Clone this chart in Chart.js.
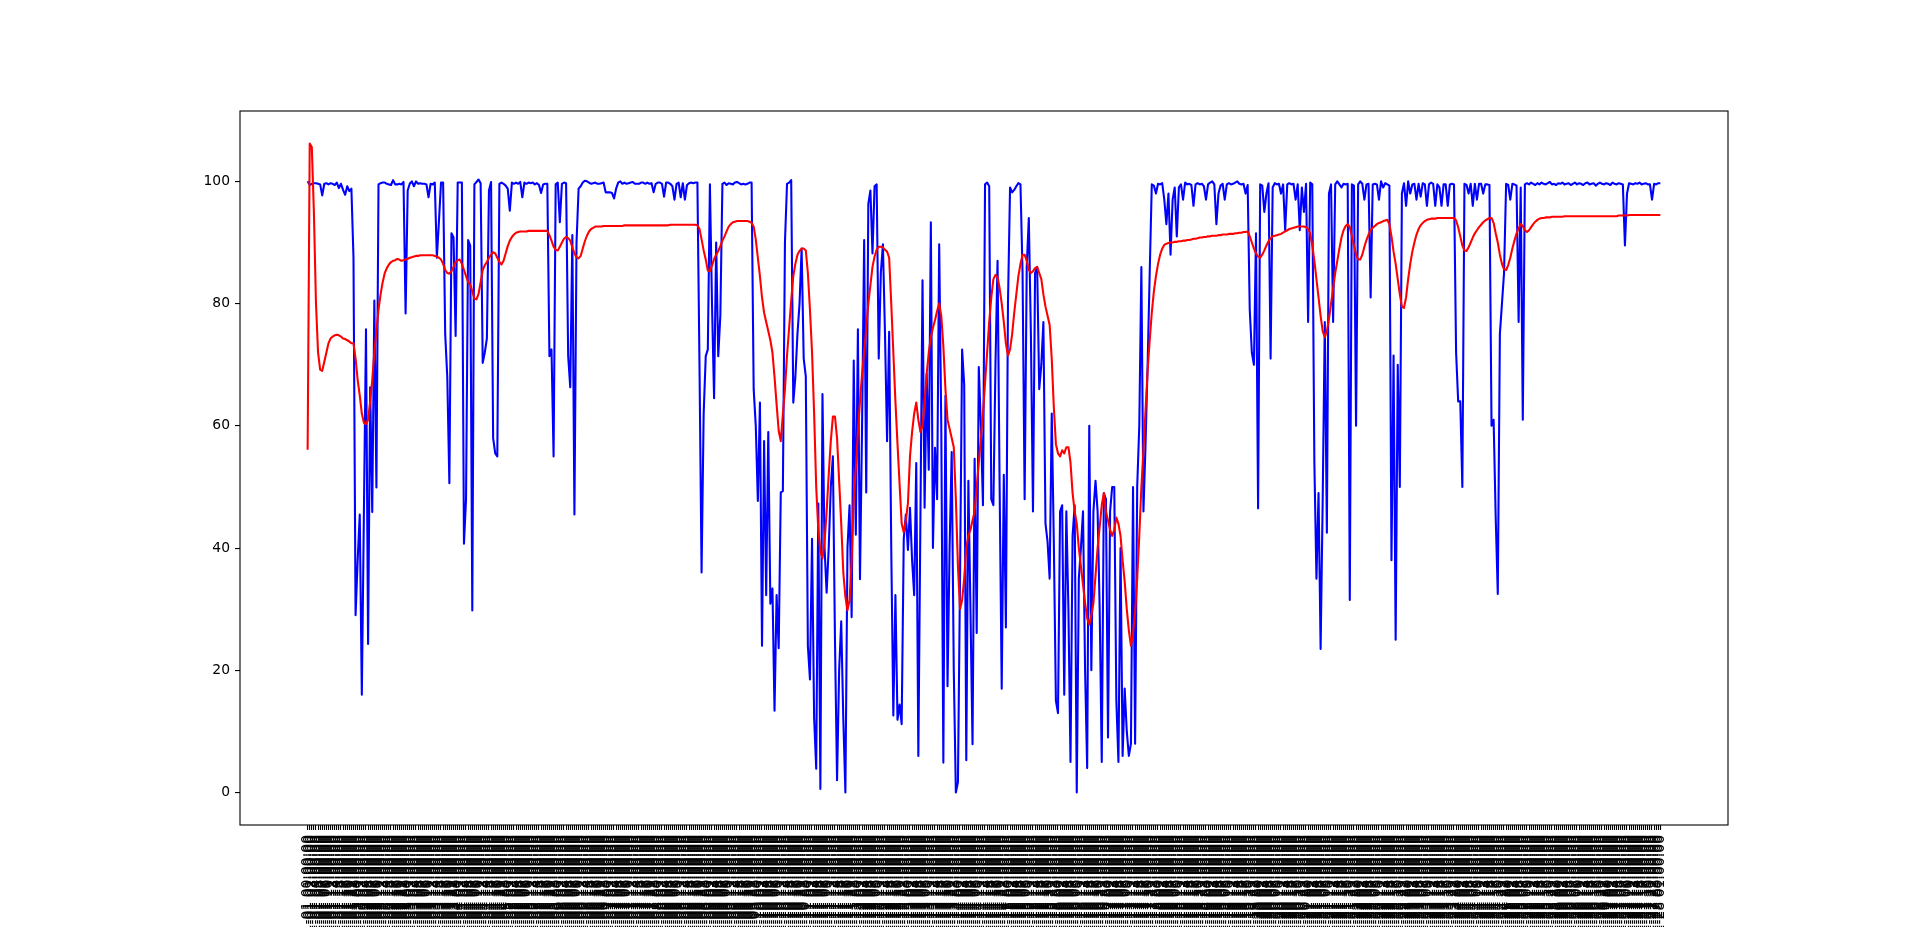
<!DOCTYPE html>
<html>
<head>
<meta charset="utf-8">
<script src="https://cdn.jsdelivr.net/npm/chart.js@4.4.0/dist/chart.umd.min.js"></script>
<style>
html,body{margin:0;padding:0;background:#ffffff;overflow:hidden;}
canvas{display:block;}
</style>
</head>
<body>
<canvas id="chart" width="1920" height="927"></canvas>
<script>
const blueValues = [
100,99.4,99.6,99.7,99.7,99.6,99.5,97.7,99.6,99.7,
99.5,99.7,99.6,99.4,99.8,98.9,99.6,98.6,97.8,99.2,
98.4,98.8,87.5,29,38,45.5,16,46,75.8,24.3,
66.3,45.9,80.5,49.9,99.5,99.7,99.8,99.8,99.6,99.5,
99.4,100.2,99.5,99.5,99.6,99.5,99.9,78.4,98.5,99.6,
100,99.2,100,99.6,99.7,99.6,99.6,99.5,97.4,99.6,
99.5,99.8,87.5,93.5,99.8,99.8,75,68,50.6,91.5,
90.8,74.7,99.8,99.8,99.8,40.7,48,90.4,89.5,29.8,
99.5,99.9,100.3,99.7,70.3,72,74.3,98.5,99.9,58,
55.5,55,99.6,99.8,99.6,99.3,98.8,95.2,99.8,99.6,
99.8,99.6,99.9,97.4,99.8,99.6,99.8,99.7,99.8,99.5,
99.7,99.4,98.1,99.5,99.6,99.6,71.4,72.5,55,99.5,
99.8,93.3,99.6,99.8,99.7,71.4,66.3,91.2,45.5,90,
98.8,99.2,99.8,100.1,100,99.8,99.6,99.7,99.8,99.6,
99.6,99.7,99.8,98.2,98.2,98.2,98.1,97.2,98.8,99.8,
100,99.6,99.8,99.6,99.7,99.8,99.9,99.6,99.6,99.6,
99.8,99.8,99.6,99.8,99.6,99.7,98.2,99.6,99.8,99.8,
99.6,97.5,99.8,99.8,99.6,99.2,97,99.6,99.8,97.4,
99.7,97,99.4,99.7,99.8,99.7,99.8,99.8,70,36,
62,71.4,72.5,99.5,80,64.5,90,71.4,78,99.6,
99.8,99.4,99.7,99.6,99.5,99.8,99.9,99.7,99.5,99.6,
99.5,99.6,99.8,99.8,66,60,47.7,63.8,24,57.5,
32.3,59,30.9,33.4,13.4,32.3,23.6,49.1,49.3,90,
99.6,99.8,100.2,63.8,68,75,80,89,71,68.1,
24,18.5,41.5,12.2,3.9,47.3,0.6,65.2,40,32.7,
40,50,55,25,2,20,28,12,0,40,
47,28.7,70.7,42.2,75.8,34.9,60,90.4,49.1,96.3,
98.5,88.2,99.2,99.5,71,85,89.7,75,57.5,75.4,
40,12.6,32.3,11.9,14.4,11.2,41.5,45.5,39.7,46.6,
38,32.3,53.9,6,45,83.8,46.6,68.5,52.8,93.3,
40,56.4,48,89.7,60,4.9,64.9,17.4,40,55.7,
20,0,1.7,35,72.5,66.7,5.3,51,30,7.9,
54.6,26.1,69.6,60,47,99.5,99.8,99.2,48,47,
70,87,50,17,52,27,80,99,98.2,98.6,
99.2,99.7,99.5,85,48,86,94,75,46,85,
86,66,70,77,44,41,35,62,41,15,
13,46,47,16,46,30,5,42,47,0,
35,40,46,20,4,60,20,46,51,46,
30,5,49,48,9,46,50,50,15,5,
40,6,17,10,6,8,50,8,50,60,
86,46,57,70,85,99.5,99.3,98,99.6,99.5,
99.7,97,93,98,88,97,99,91,99,99.5,
97,99.8,99.5,99.6,99.4,96,99.5,99.7,99.5,99.6,
99.2,97,99.5,99.8,100,99.5,93,98,99.3,99.6,
97,99.5,99.7,99.5,99.6,99.8,100,99.6,99.5,99.6,
98,99.4,79,72,70,91.5,46.5,99.5,99.3,95,
98,99.7,71,99,99.7,99.5,99.6,98,99.5,92,
99.5,99.7,99.5,99.6,97,99.5,92,99,95,99.6,
77,99.8,99.5,54,35,49,23.5,48,77,42.5,
98,99.5,77,99.5,100,99.5,99,99.6,99.5,99.6,
31.5,99.5,99.3,60,99.5,100,99.6,97,99.5,99.6,
81,99.5,99.6,99.5,97,100,99,99.7,99.5,99.3,
38,71.5,25,70,50,98,99.7,96,100,98,
99.5,99.6,97,99.6,97.5,99.7,99.5,96,99.5,99.8,
99.6,96,99.5,99,96,99.5,99.5,96,99.5,99.6,
99.5,72,64,64,50,99.6,99.4,98,99.6,96,
99.6,97,99.6,99.6,98,99.5,99.5,99.4,60,61,
45,32.5,75,80,85,99.6,99.4,97,99.6,99.5,
99.3,77,99,61,99.5,99.7,99.5,99.8,99.6,99.4,
99.7,99.5,99.8,99.6,99.5,99.7,99.9,99.5,99.6,99.4,
99.7,99.6,99.8,99.5,99.6,99.7,99.4,99.6,99.8,99.5,
99.7,99.6,99.4,99.7,99.8,99.5,99.6,99.7,99.3,99.6,
99.8,99.6,99.5,99.7,99.6,99.4,99.8,99.6,99.5,99.7,
99.6,99.5,89.5,98,99.7,99.6,99.5,99.7,99.6,99.8,
99.5,99.6,99.7,99.5,99.5,97,99.6,99.5,99.7,99.7
];

const redValues = [
56.1,106.2,105.6,95,80,72,69.2,69,70.5,72,
73.5,74.3,74.6,74.8,74.9,74.8,74.6,74.3,74.2,74,
73.8,73.5,73.5,71,67.5,65,62,60.5,60.3,61,
64,67.5,72,75.5,79,81.5,83.5,85,85.8,86.4,
86.8,87,87.1,87.3,87.2,87,87.1,87.2,87.3,87.5,
87.6,87.7,87.8,87.8,87.9,87.9,87.9,87.9,87.9,87.9,
87.9,87.8,87.7,87.5,87.2,86.5,85.5,85,84.9,85.3,
86,86.8,87.1,87.2,86.5,85.5,84.5,83.5,83.1,82,
80.8,80.7,81.6,83.5,85.5,86.3,86.8,87.5,88,88.4,
88.2,87.5,86.8,86.4,87,88.2,89.4,90.3,90.9,91.3,
91.6,91.7,91.8,91.8,91.8,91.8,91.9,91.9,91.9,91.9,
91.9,91.9,91.9,91.9,91.9,91.9,91.2,90.3,89.3,88.8,
88.7,89.3,90,90.6,90.9,90.7,90.3,89.2,88.2,87.6,
87.4,87.8,89,90.2,91.1,91.8,92.2,92.4,92.6,92.6,
92.6,92.6,92.7,92.7,92.7,92.7,92.7,92.7,92.7,92.7,
92.7,92.7,92.8,92.8,92.8,92.8,92.8,92.8,92.8,92.8,
92.8,92.8,92.8,92.8,92.8,92.8,92.8,92.8,92.8,92.8,
92.8,92.8,92.8,92.8,92.9,92.9,92.9,92.9,92.9,92.9,
92.9,92.9,92.9,92.9,92.9,92.9,92.9,92.8,92.2,90.5,
88.7,87.2,85.4,85.3,86.2,87.3,88,88.6,89.4,90.3,
91,91.8,92.6,93,93.3,93.4,93.5,93.5,93.5,93.5,
93.5,93.5,93.4,93.2,92.6,90.5,87.5,84.5,81,78.5,
77,75.5,74,72,68,63.5,59.2,57.5,61.9,66,
71.5,76,80.5,84.5,86.5,88,88.6,89,89,88.7,
85,79,72,62,50,43,39.5,38.3,41,46,
52,57.5,61.5,61.5,58,51,44,36,32,29.8,
31.5,38,48,53,59,64,68.5,72,76,80,
83,86,87.7,88.8,89.3,89.3,89.2,88.8,88.5,87.5,
80,72,64,57,50.5,44,42.6,44.5,47.3,55,
59,62,63.8,61,59,60,64,68.5,72,74.5,
76,77.3,78.8,80,78,73,66,61,59.5,58,
56.5,48,37,30,31.5,35,40,42,43,44.5,
46,50,54,58,62,67,72,77,81,84,
84.7,84.3,82.5,80,77,73.5,71.5,72.5,75,78.5,
81.5,84.5,86.5,88,88,87,85.5,85,85.3,85.8,
86,85,84,81.5,79.5,78,76.5,71,63,57,
55.5,55,56,55.5,56.5,56.5,54,49,46,44,
40,37,34,31,28.5,27.5,29,31,35.5,40,
43.5,47,49,46,44.5,43,42,43,45,44,
42,38,34.5,30,26.5,24,26,29.5,35,42,
50,56,62.5,69,74,78.5,82,84.5,86.5,88,
89,89.6,89.8,89.9,90,90,90.1,90.1,90.2,90.2,
90.3,90.3,90.4,90.4,90.5,90.6,90.6,90.7,90.8,90.8,
90.9,90.9,91,91,91.1,91.1,91.1,91.2,91.2,91.3,
91.3,91.3,91.4,91.4,91.4,91.5,91.5,91.6,91.6,91.7,
91.7,91.8,91,90,89,88.2,87.7,87.5,88,88.7,
89.5,90.2,90.7,91,91.1,91.2,91.3,91.4,91.6,91.8,
92,92.2,92.3,92.4,92.5,92.6,92.6,92.6,92.6,92.5,
92.2,91.5,89.5,87,84,81,78,75.5,74.5,75.5,
77.5,80,82.5,85,87,89,90.8,92,92.7,93,
92.5,91,89.5,88,87.2,87.2,88,89.3,90.4,91.3,
92,92.4,92.7,93,93.2,93.3,93.5,93.6,93.7,93,
91,88.5,86.5,84,81.5,79.5,79.3,81,84,86.5,
88.5,90,91.3,92.2,92.8,93.2,93.5,93.7,93.8,93.9,
93.9,93.9,94,94,94,94,94,94,94,94,
94,93.6,92.5,91,89.5,88.7,88.6,89.2,90,90.8,
91.5,92,92.5,92.9,93.3,93.6,93.8,94,94,93.2,
91.5,90,88,86.5,85.6,85.5,86.3,87.5,89,90.3,
91.5,92.3,93,92.7,92,91.7,92,92.5,93,93.4,
93.7,93.9,94,94,94.1,94.1,94.1,94.2,94.2,94.2,
94.2,94.2,94.2,94.3,94.3,94.3,94.3,94.3,94.3,94.3,
94.3,94.3,94.3,94.3,94.3,94.3,94.3,94.3,94.3,94.3,
94.3,94.3,94.3,94.3,94.3,94.3,94.3,94.3,94.3,94.4,
94.4,94.4,94.4,94.4,94.5,94.5,94.5,94.5,94.5,94.5,
94.5,94.5,94.5,94.5,94.5,94.5,94.5,94.5,94.5,94.5
];

const yTickValues = [0, 20, 40, 60, 80, 100];

// category tick labels (timestamps; illegible in the reference, one per point)
const xLabels = [];
(function () {
  const pad = n => String(n).padStart(2, '0');
  const start = Date.UTC(2019, 0, 1, 0, 0, 0);
  for (let i = 0; i < blueValues.length; i++) {
    const d = new Date(start + i * 3600 * 1000);
    xLabels.push(d.getUTCFullYear() + '-' + pad(d.getUTCMonth() + 1) + '-' + pad(d.getUTCDate()) +
      ' ' + pad(d.getUTCHours()) + ':' + pad(d.getUTCMinutes()) + ':' + pad(d.getUTCSeconds()));
  }
})();

const FONT = { family: 'DejaVu Sans', size: 13.89 };
const n = blueValues.length;
const allVals = blueValues.concat(redValues);
const dMin = Math.min(...allVals), dMax = Math.max(...allVals);
const yMargin = (dMax - dMin) * 0.05;
const xMargin = (n - 1) * 0.05;

const framePlugin = {
  id: 'frame',
  afterDraw(chart) {
    const { ctx, chartArea: a } = chart;
    ctx.save();
    ctx.strokeStyle = '#000000';
    ctx.lineWidth = 1.1;
    ctx.strokeRect(a.left, a.top, a.right - a.left, a.bottom - a.top);
    ctx.restore();
  }
};

new Chart(document.getElementById('chart'), {
  type: 'line',
  data: {
    datasets: [
      {
        data: blueValues.map((v, i) => ({ x: i, y: v })),
        borderColor: '#0000ff',
        borderWidth: 2.08,
        pointRadius: 0,
        fill: false,
        tension: 0,
        borderJoinStyle: 'round',
        order: 2
      },
      {
        data: redValues.map((v, i) => ({ x: i, y: v })),
        borderColor: '#ff0000',
        borderWidth: 2.08,
        pointRadius: 0,
        fill: false,
        tension: 0,
        borderJoinStyle: 'round',
        order: 1
      }
    ]
  },
  options: {
    responsive: false,
    devicePixelRatio: 1,
    animation: false,
    events: [],
    layout: { padding: { top: 111, right: 192, left: 0, bottom: 0 } },
    plugins: { legend: { display: false }, tooltip: { enabled: false }, title: { display: false } },
    scales: {
      x: {
        type: 'linear',
        min: -xMargin,
        max: (n - 1) + xMargin,
        afterBuildTicks: (scale) => { scale.ticks = xLabels.map((_, i) => ({ value: i })); },
        afterFit: (scale) => { scale.height = 102; },
        border: { display: false },
        grid: { display: true, drawOnChartArea: false, drawTicks: true, tickLength: 5, color: '#000000', lineWidth: 1.1 },
        ticks: {
          autoSkip: false,
          maxRotation: 90,
          minRotation: 90,
          padding: 5,
          color: '#000000',
          font: FONT,
          callback: (value) => xLabels[Math.round(value)]
        }
      },
      y: {
        type: 'linear',
        min: dMin - yMargin,
        max: dMax + yMargin,
        afterBuildTicks: (scale) => { scale.ticks = yTickValues.map(v => ({ value: v })); },
        afterFit: (scale) => { scale.width = 240; },
        border: { display: false },
        grid: { display: true, drawOnChartArea: false, drawTicks: true, tickLength: 5, color: '#000000', lineWidth: 1.1 },
        ticks: {
          padding: 5,
          color: '#000000',
          font: FONT,
          callback: (value) => String(value)
        }
      }
    }
  },
  plugins: [framePlugin]
});
</script>
</body>
</html>
